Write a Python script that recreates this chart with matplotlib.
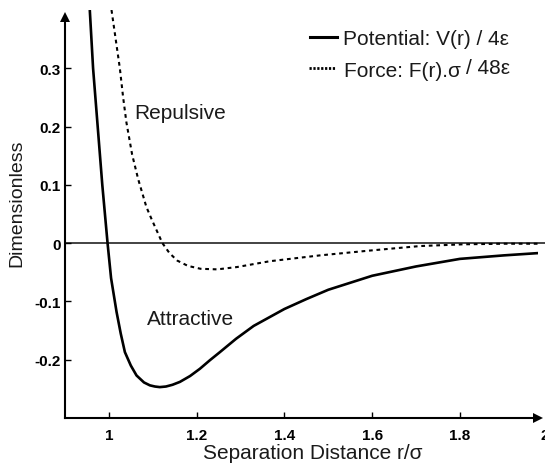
import matplotlib
matplotlib.use("Agg")
import matplotlib.pyplot as plt
from matplotlib.lines import Line2D

plt.rcParams['font.family'] = ['Liberation Sans', 'DejaVu Sans']

# ---- data ----
r_pot = [0.9565, 0.964, 0.9745, 0.985, 0.991, 0.997, 1.005, 1.0175, 1.027, 1.0365,
         1.05, 1.063, 1.08, 1.0935, 1.105, 1.116, 1.13, 1.145, 1.162, 1.185,
         1.2075, 1.23, 1.253, 1.29, 1.33, 1.40, 1.45, 1.50, 1.60, 1.70,
         1.80, 1.90, 1.98]
v_pot = [0.40, 0.30, 0.20, 0.10, 0.05, 0.0, -0.06, -0.118, -0.155, -0.187,
         -0.210, -0.227, -0.239, -0.244, -0.246, -0.247, -0.246, -0.243, -0.238, -0.228,
         -0.2155, -0.201, -0.187, -0.164, -0.142, -0.113, -0.096, -0.080, -0.056, -0.040,
         -0.027, -0.021, -0.017]

r_force = [1.006, 1.0155, 1.025, 1.0325, 1.040, 1.053, 1.0667, 1.0855, 1.098, 1.110,
           1.122, 1.138, 1.156, 1.18, 1.209, 1.247, 1.292, 1.367, 1.481, 1.595,
           1.709, 1.808, 1.90, 1.98]
f_force = [0.40, 0.35, 0.30, 0.25, 0.207, 0.152, 0.110, 0.062, 0.040, 0.020,
           0.0, -0.017, -0.030, -0.039, -0.044, -0.045, -0.041, -0.031, -0.021, -0.0127,
           -0.005, -0.002, -0.001, -0.001]

x_ticks = [1, 1.2, 1.4, 1.6, 1.8]
x_ticklabels = ['1', '1.2', '1.4', '1.6', '1.8']
y_ticks = [-0.2, -0.1, 0, 0.1, 0.2, 0.3]
y_ticklabels = ['-0.2', '-0.1', '0', '0.1', '0.2', '0.3']

pot_label = 'Potential: V(r) / 4\u03b5'
force_label_a = 'Force: F(r).\u03c3'
force_label_b = '/ 48\u03b5'

W, H = 545, 464
def fx(x):
    return x / W
def fy(y):
    return 1 - y / H

fig = plt.figure(figsize=(W / 100, H / 100), dpi=100)
ax = fig.add_axes([fx(65), fy(419), fx(538) - fx(65), fy(11) - fy(419)])

ax.plot(r_pot, v_pot, color='black', lw=1.9, solid_capstyle='butt')
ax.plot(r_force, f_force, color='black', lw=1.5, linestyle=(0, (1.8, 1.8)))
ax.axhline(0, xmin=0, xmax=1.02, color='#222222', lw=1.2, clip_on=False, zorder=1)

ax.set_xlim(0.9, 1.978)
ax.set_ylim(-0.3, 0.4)

for s in ['top', 'right']:
    ax.spines[s].set_visible(False)
for s in ['left', 'bottom']:
    ax.spines[s].set_linewidth(1.5)
ax.spines['left'].set_bounds(-0.3, 0.3875)

ax.set_xticks(x_ticks)
ax.set_xticklabels(x_ticklabels)
ax.set_yticks(y_ticks)
ax.set_yticklabels(y_ticklabels)
ax.tick_params(axis='both', direction='in', length=4, width=1, labelsize=11)
ax.tick_params(axis='x', pad=7)
ax.tick_params(axis='y', pad=3)
for lab in ax.get_xticklabels() + ax.get_yticklabels():
    lab.set_fontweight('bold')

ax.annotate('2', xy=(2, 0), xycoords=('data', 'axes fraction'), xytext=(-2, -7),
            textcoords='offset points', ha='center', va='top', fontsize=11,
            fontweight='bold', annotation_clip=False)

# axis arrows
ax.plot([1], [0], marker='>', ms=7.5, mew=0, color='black',
        transform=ax.transAxes, clip_on=False)
ax.plot([0], [0.3875], marker='^', ms=7.5, mew=0, color='black',
        transform=ax.get_yaxis_transform(), clip_on=False)

# annotations
txtc = '#1a1a1a'
fig.text(fx(134), fy(119.3), 'Repulsive', fontsize=15, color=txtc, va='baseline')
fig.text(fx(146.7), fy(325), 'Attractive', fontsize=15, color=txtc, va='baseline')

# legend
fig.add_artist(Line2D([fx(310), fx(337)], [fy(38.3)] * 2, color='black', lw=2.2))
fig.add_artist(Line2D([fx(309), fx(336)], [fy(69.3)] * 2, color='black', lw=2.0,
                      linestyle=(0, (0.8, 0.6))))
fig.text(fx(343.3), fy(45), pot_label, fontsize=15, color=txtc, va='baseline')
t_force = fig.text(fx(344), fy(76.7), force_label_a, fontsize=15, color=txtc,
                   va='baseline')
fig.add_artist(matplotlib.text.Annotation(
    force_label_b, xy=(1, 0), xycoords=t_force, xytext=(4, 2.2),
    textcoords='offset points', fontsize=15, color=txtc, ha='left', va='bottom'))

# axis labels
fig.text(fx(17), fy(203.5), 'Dimensionless', rotation=90, fontsize=14, color=txtc,
         ha='center', va='center')
fig.text(fx(313), fy(459), 'Separation Distance r/\u03c3', fontsize=15, color=txtc,
         ha='center', va='baseline')

fig.savefig('out.png', dpi=100)
